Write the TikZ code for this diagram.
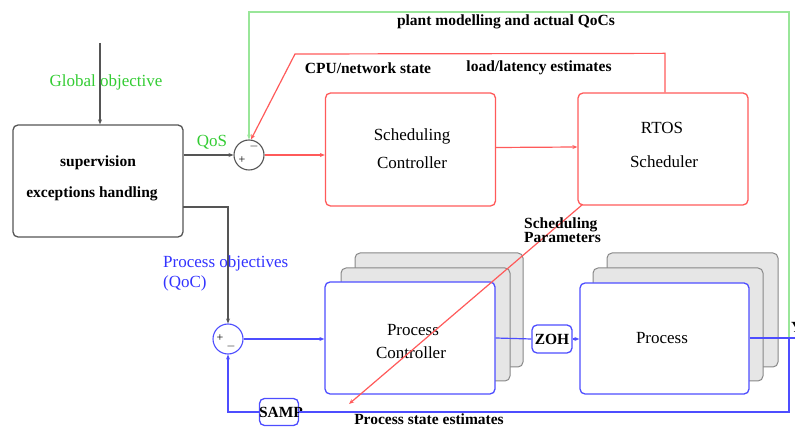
\documentclass[tikz,border=0pt]{standalone}
\usepackage{fontspec}
\setmainfont{Liberation Serif}
\usetikzlibrary{arrows.meta}
\definecolor{gline}{HTML}{99E699}
\definecolor{gtext}{HTML}{33CC33}
\definecolor{rline}{HTML}{FF5A5A}
\definecolor{bline}{HTML}{4D4DFF}
\definecolor{btext}{HTML}{3333FF}
\definecolor{kline}{HTML}{555555}
\definecolor{shfill}{HTML}{E6E6E6}
\definecolor{shline}{HTML}{888888}
\begin{document}
\begin{tikzpicture}[x=1pt,y=-1pt,
  box/.style={draw, rounded corners=5pt, inner sep=0pt, line width=1.3pt, fill=white},
  shadowbox/.style={draw=shline, fill=shfill, rounded corners=5pt, inner sep=0pt, line width=1pt},
  arr/.style={-{Stealth[length=5pt,width=4pt]}},
  ln/.style={line width=1.2pt},
  reg/.style={font=\fontsize{17}{20}\selectfont, inner sep=0pt},
  bld/.style={font=\fontsize{15.5}{18}\selectfont\bfseries, inner sep=0pt},
  sumnode/.style={circle, draw, minimum size=30pt, inner sep=0pt, line width=1.1pt},
  sign/.style={font=\fontsize{12}{12}\selectfont, inner sep=0pt}]
\useasboundingbox (0,0) rectangle (795,427);

% supervision box
\node[box, draw=kline, minimum width=170pt, minimum height=112pt] (sup) at (98,181) {};
\node[bld] (supt1) at (98,163) {supervision};
\node[bld] (supt2) at (92,194) {exceptions handling};

% scheduling controller and RTOS
\node[box, draw=rline, minimum width=170pt, minimum height=113pt] (sc) at (410.5,149.5) {};
\node[reg] (sct1) at (412,136) {Scheduling};
\node[reg] (sct2) at (412,163) {Controller};
\node[box, draw=rline, minimum width=170pt, minimum height=112pt] (rtos) at (663,149) {};
\node[reg] (rtt1) at (662,128) {RTOS};
\node[reg] (rtt2) at (664,162) {Scheduler};

% process controller stack
\node[shadowbox, minimum width=168pt, minimum height=114pt] (pc3) at (439,310) {};
\node[shadowbox, minimum width=169pt, minimum height=113pt] (pc2) at (425.5,324.5) {};
\node[box, draw=bline, minimum width=170pt, minimum height=112pt] (pc) at (410,338) {};
\node[reg] (pct1) at (413,330) {Process};
\node[reg] (pct2) at (411,353) {Controller};

% process stack
\node[shadowbox, minimum width=171pt, minimum height=114pt] (p3) at (692.5,310) {};
\node[shadowbox, minimum width=170pt, minimum height=113pt] (p2) at (678,324.5) {};
\node[box, draw=bline, minimum width=169pt, minimum height=111pt] (p) at (664.5,338.5) {};
\node[reg] (pt) at (662,338) {Process};

% ZOH and SAMP
\node[box, draw=bline, minimum width=40pt, minimum height=28pt] (zoh) at (552,339) {};
\node[bld] (zoht) at (552,339) {ZOH};
\node[box, draw=bline, minimum width=39pt, minimum height=27pt] (samp) at (279,412) {};
\node[bld] (sampt) at (281,412) {SAMP};

% summing junctions
\node[sumnode, draw=kline] (s1) at (249,155) {};
\node[sign] (s1p) at (242,160) {+};
\node[sign] (s1m) at (254,147) {$-$};
\node[sumnode, draw=bline] (s2) at (228,339) {};
\node[sign] (s2p) at (220,338) {+};
\node[sign] (s2m) at (231,347) {$-$};

% coordinates
\coordinate (gin) at (100,43);
\coordinate (k1) at (183,207);
\coordinate (gtop) at (249,12);
\coordinate (fb) at (789,338);
\coordinate (out) at (795,338);
\coordinate (rc) at (295,54);
\coordinate (pe) at (349,404);

% black connectors
\draw[ln, kline, arr] (gin) -- (sup.north -| gin);
\draw[ln, kline, arr] (sup.east |- s1) -- (s1.west);
\draw[ln, kline, arr] (k1) -| (s2.north);

% red connectors
\draw[ln, rline, arr] (s1.east) -- (sc.west |- s1);
\draw[ln, rline, arr] ([yshift=2pt]sc.east) -- ([yshift=2pt]rtos.west);
\draw[ln, rline, arr] ([xshift=2pt]rtos.north) -- ++(0,-39) -- (rc) -- ([xshift=2pt]s1.north);
\draw[ln, rline, arr] ([xshift=5pt,yshift=1pt]rtos.south west) -- (pe);

% green connector
\draw[ln, gline, arr] (fb) |- (gtop) -- (s1.north);

% blue connectors
\draw[ln, bline, arr] (s2.east) -- (pc.west |- s2);
\draw[ln, bline] (pc.east) -- (zoh.west);
\draw[ln, bline, arr] (zoh.east) -- (p.west |- zoh);
\draw[ln, bline] (p.east |- out) -- (out);
\draw[ln, bline] (fb) |- (samp.east);
\draw[ln, bline, arr] (samp.west) -| (s2.south);

% labels
\node[reg, text=gtext] (lglob) at (106,82) {Global objective};
\node[reg, text=gtext] (lqos) at (212,142) {QoS};
\node[bld] (lplant) at (506,22) {plant modelling and actual QoCs};
\node[bld] (lcpu) at (368,68) {CPU/network state};
\node[bld] (lload) at (539,68) {load/latency estimates};
\node[bld, anchor=west, align=left, font=\fontsize{15.5}{13}\selectfont\bfseries] (lsp) at (524,230) {Scheduling\\Parameters};
\node[reg, text=btext, anchor=west] (lpo) at (163,263) {Process objectives};
\node[reg, text=btext, anchor=west] (lqoc) at (163,283) {(QoC)};
\node[bld] (lpse) at (429,419) {Process state estimates};
\node[bld, anchor=west] (ly) at (791,327) {Y};
\end{tikzpicture}
\end{document}
